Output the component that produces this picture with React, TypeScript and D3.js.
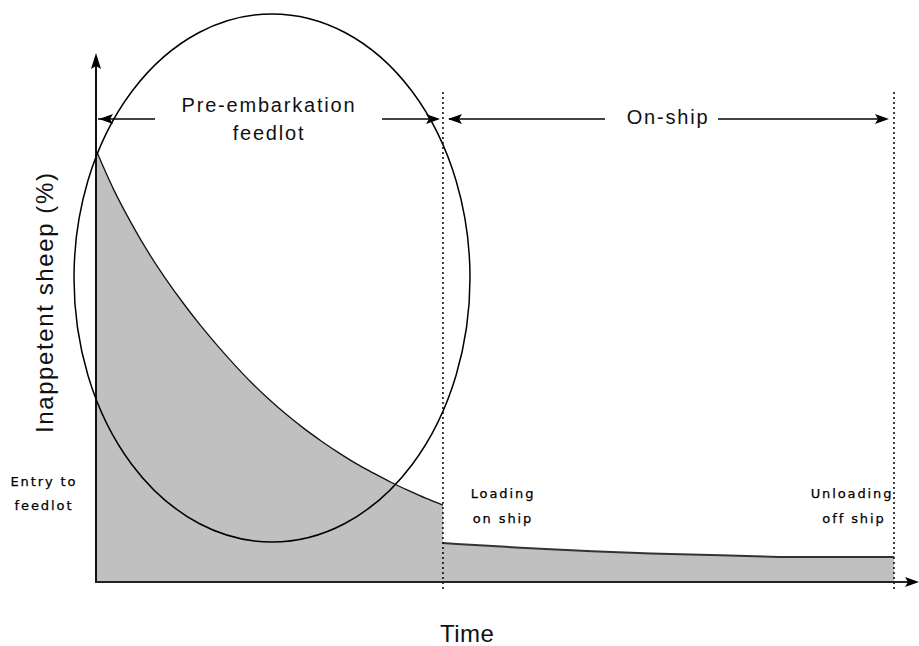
import React from "react";
import * as d3 from "d3";

// Time (arbitrary units): 0 = entry to feedlot, 10 = loading on ship, 23 = unloading
const feedlotTime = [0, 0.5, 1, 1.5, 2, 2.5, 3, 3.5, 4, 4.5, 5, 5.5, 6, 6.5, 7, 7.5, 8, 8.5, 9, 9.5, 10];
const feedlotPct = [100, 91.0, 83.3, 76.4, 70.3, 64.7, 59.5, 54.7, 50.2, 46.0, 42.2, 38.7, 35.5, 32.6, 29.9, 27.4, 25.2, 23.1, 21.2, 19.4, 17.8];
const shipTime = [10, 10.4, 11.3, 12.1, 13.1, 14.3, 16.0, 18.0, 19.7, 23.0];
const shipPct = [9.0, 8.8, 8.4, 8.0, 7.6, 7.1, 6.6, 6.2, 5.8, 5.8];

const loadingTime = 10;
const unloadingTime = 23;
const phaseLabels = ["Pre-embarkation", "feedlot", "On-ship"];
const eventLabels = [["Entry to", "feedlot"], ["Loading", "on ship"], ["Unloading", "off ship"]];
const yTitle = "Inappetent sheep (%)";
const xTitle = "Time";

const W = 919, H = 646;
const x = d3.scaleLinear().domain([0, 23]).range([96, 894]);
const y = d3.scaleLinear().domain([0, 100]).range([582, 150]);

const font = "'Liberation Sans', Arial, sans-serif";
const smallFont = "'DejaVu Sans', sans-serif";

function Arrow({ tipX, tipY, dir }: { tipX: number; tipY: number; dir: "left" | "right" | "up" }) {
  let pts: [number, number][];
  if (dir === "left") pts = [[tipX, tipY], [tipX + 14, tipY - 5], [tipX + 11, tipY], [tipX + 14, tipY + 5]];
  else if (dir === "right") pts = [[tipX, tipY], [tipX - 14, tipY - 5], [tipX - 11, tipY], [tipX - 14, tipY + 5]];
  else pts = [[tipX, tipY], [tipX - 5, tipY + 16], [tipX, tipY + 13], [tipX + 5, tipY + 16]];
  return <polygon points={pts.map(p => p.join(",")).join(" ")} fill="#000" />;
}

export default function App() {
  const feedData = feedlotTime.map((t, i) => [t, feedlotPct[i]] as [number, number]);
  const shipData = shipTime.map((t, i) => [t, shipPct[i]] as [number, number]);
  const area = d3.area<[number, number]>().x(d => x(d[0])).y0(y(0)).y1(d => y(d[1])).curve(d3.curveMonotoneX);
  const line = d3.line<[number, number]>().x(d => x(d[0])).y(d => y(d[1])).curve(d3.curveMonotoneX);
  const lineLin = d3.line<[number, number]>().x(d => x(d[0])).y(d => y(d[1]));
  const areaLin = d3.area<[number, number]>().x(d => x(d[0])).y0(y(0)).y1(d => y(d[1]));

  const xL = x(loadingTime), xU = x(unloadingTime);
  const arrowY = 119;
  const gray = "#c0c0c0";

  return (
    <svg width={W} height={H} style={{ position: "absolute", left: 0, top: 0, background: "#fff" }}>
      {/* areas */}
      <path d={area(feedData) || ""} fill={gray} />
      <path d={areaLin(shipData) || ""} fill={gray} />
      <path d={line(feedData) || ""} fill="none" stroke="#111" strokeWidth={1.3} />
      <path d={lineLin(shipData) || ""} fill="none" stroke="#333" strokeWidth={2} />
      {/* dotted verticals */}
      <line x1={xL} x2={xL} y1={92} y2={590} stroke="#000" strokeWidth={1.5} strokeDasharray="2,3" />
      <line x1={xU} x2={xU} y1={92} y2={590} stroke="#000" strokeWidth={1.5} strokeDasharray="2,3" />
      {/* axes */}
      <line x1={96} x2={96} y1={60} y2={583} stroke="#111" strokeWidth={2} />
      <line x1={95} x2={912} y1={582} y2={582} stroke="#222" strokeWidth={2} />
      <Arrow tipX={96} tipY={53} dir="up" />
      <Arrow tipX={919} tipY={582} dir="right" />
      {/* phase arrows */}
      <g stroke="#444" strokeWidth={2}>
        <line x1={98} x2={155} y1={arrowY} y2={arrowY} />
        <line x1={382} x2={438} y1={arrowY} y2={arrowY} />
        <line x1={449} x2={605} y1={arrowY} y2={arrowY} />
        <line x1={718} x2={886} y1={arrowY} y2={arrowY} />
      </g>
      <Arrow tipX={99} tipY={arrowY} dir="left" />
      <Arrow tipX={440} tipY={arrowY} dir="right" />
      <Arrow tipX={448} tipY={arrowY} dir="left" />
      <Arrow tipX={889} tipY={arrowY} dir="right" />
      <g fontFamily={font} fontSize={20} fill="#111" textAnchor="middle" letterSpacing={1.8}>
        <text x={269} y={112}>{phaseLabels[0]}</text>
        <text x={269} y={140}>{phaseLabels[1]}</text>
        <text x={668} y={124}>{phaseLabels[2]}</text>
      </g>
      {/* ellipse */}
      <ellipse cx={272} cy={278} rx={198} ry={264} fill="none" stroke="#000" strokeWidth={1.5} />
      {/* event labels */}
      <g fontFamily={smallFont} fontSize={13} fill="#000" stroke="#000" strokeWidth={0.25} letterSpacing={1.9} textAnchor="middle">
        <text x={44} y={486}>{eventLabels[0][0]}</text>
        <text x={44} y={510}>{eventLabels[0][1]}</text>
        <text x={503} y={498}>{eventLabels[1][0]}</text>
        <text x={503} y={523}>{eventLabels[1][1]}</text>
        <text x={852} y={498}>{eventLabels[2][0]}</text>
        <text x={854} y={523}>{eventLabels[2][1]}</text>
      </g>
      {/* titles */}
      <text x={440} y={642} fontFamily={font} fontSize={24} fill="#111" letterSpacing={0.5}>{xTitle}</text>
      <text transform="translate(53,433) rotate(-90)" fontFamily={font} fontSize={24} fill="#111" letterSpacing={1.6}>{yTitle}</text>
    </svg>
  );
}
